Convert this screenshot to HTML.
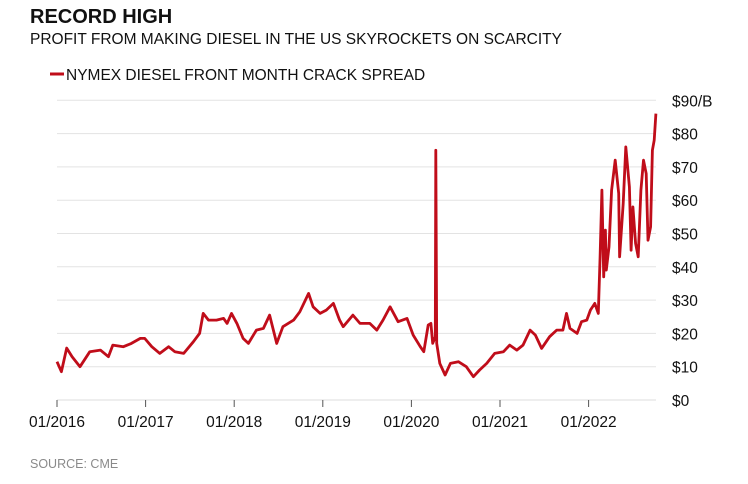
<!DOCTYPE html>
<html><head><meta charset="utf-8"><style>
body{margin:0;background:#fff;width:748px;height:479px;overflow:hidden;font-family:"Liberation Sans",Arial,sans-serif}
svg text{font-family:"Liberation Sans",Arial,sans-serif}
</style></head><body>
<svg id="chart" width="748" height="479">
<text x="30" y="23" font-size="20" font-weight="bold" fill="#111">RECORD HIGH</text>
<text x="30" y="44" font-size="15.5" fill="#111">PROFIT FROM MAKING DIESEL IN THE US SKYROCKETS ON SCARCITY</text>
<line x1="50" y1="74" x2="64" y2="74" stroke="#c00d1a" stroke-width="3"/>
<text x="66" y="80" font-size="15.5" fill="#111">NYMEX DIESEL FRONT MONTH CRACK SPREAD</text>
<g id="grid"></g><g id="xaxis"></g><g id="yaxis"></g><g id="series"></g>
<text x="30" y="468" font-size="12.5" fill="#8a8a8a">SOURCE: CME</text>
</svg>
<script>
const yearOffsets=[0,0.05,0.11,0.17,0.26,0.37,0.49,0.58,0.63,0.75,0.84,0.94,0.99,1.07,1.16,1.26,1.33,1.43,1.54,1.61,1.65,1.71,1.80,1.88,1.92,1.97,2.03,2.10,2.16,2.25,2.33,2.40,2.48,2.55,2.67,2.74,2.84,2.89,2.97,3.04,3.12,3.19,3.23,3.34,3.42,3.53,3.61,3.68,3.76,3.85,3.95,4.02,4.10,4.14,4.19,4.22,4.24,4.27,4.275,4.285,4.32,4.38,4.44,4.53,4.62,4.70,4.77,4.85,4.94,5.04,5.11,5.19,5.26,5.34,5.40,5.47,5.56,5.64,5.71,5.75,5.79,5.87,5.92,5.98,6.02,6.07,6.11,6.13,6.15,6.17,6.19,6.20,6.23,6.26,6.30,6.34,6.35,6.39,6.42,6.46,6.48,6.50,6.53,6.56,6.59,6.62,6.65,6.67,6.70,6.72,6.74,6.76];
const crackValues=[11.5,8.5,15.6,13,10,14.5,15,13,16.5,16,17,18.5,18.5,16,14,16,14.5,14,17.5,20,26,24,24,24.5,23,26,23,18.5,17,21,21.5,25.5,17,22,24,26.5,32,28,26,27,29,24,22,25.5,23,23,21,24,28,23.5,24.5,19.5,16,14.5,22.5,23,17,19,75,17,11,7.5,11,11.5,10,7,9,11,14,14.5,16.5,15,16.5,21,19.5,15.5,19,21,21,26,21.5,20,23.5,24,27,29,26,43,63,37,51,39,46,63,72,62,43,59,76,64,45,58,47,43,63,72,68,48,52,75,78,86];
const yTicks=[0,10,20,30,40,50,60,70,80,90];
const yTickLabels=["$0","$10","$20","$30","$40","$50","$60","$70","$80","$90/B"];
const xTickLabels=["01/2016","01/2017","01/2018","01/2019","01/2020","01/2021","01/2022"];
const NS="http://www.w3.org/2000/svg";
const X0=57,YW=88.6,Y0=400,PX=3.33,XR=656;
const xs=t=>X0+t*YW, ys=v=>Y0-v*PX;
function mk(tag,attrs,parent){const e=document.createElementNS(NS,tag);for(const k in attrs)e.setAttribute(k,attrs[k]);document.getElementById(parent).appendChild(e);return e;}
yTicks.forEach((v,i)=>{
  if(v>0){const g=mk('line',{x1:X0,x2:XR,y1:ys(v),y2:ys(v),stroke:'#e3e3e3','stroke-width':1},'grid');
  
  }
  const t=mk('text',{x:672,y:ys(v)+6,'font-size':15.5,fill:'#111'},'yaxis');t.textContent=yTickLabels[i];
  
  
});
const ax=mk('line',{x1:X0,x2:XR,y1:Y0,y2:Y0,stroke:'#ddd','stroke-width':1},'xaxis');


xTickLabels.forEach((l,i)=>{
  const tk=mk('line',{x1:xs(i),x2:xs(i),y1:Y0,y2:Y0+7,stroke:'#555','stroke-width':1},'xaxis');
  
  
  const t=mk('text',{x:xs(i),y:427,'font-size':15.5,fill:'#111','text-anchor':'middle'},'xaxis');t.textContent=l;
  
  
});
const d=yearOffsets.map((t,i)=>(i?'L':'M')+xs(t).toFixed(1)+','+ys(crackValues[i]).toFixed(1)).join('');
const p=mk('path',{d:d,fill:'none',stroke:'#c00d1a','stroke-width':2.8,'stroke-linejoin':'round'},'series');


</script>
</body></html>
